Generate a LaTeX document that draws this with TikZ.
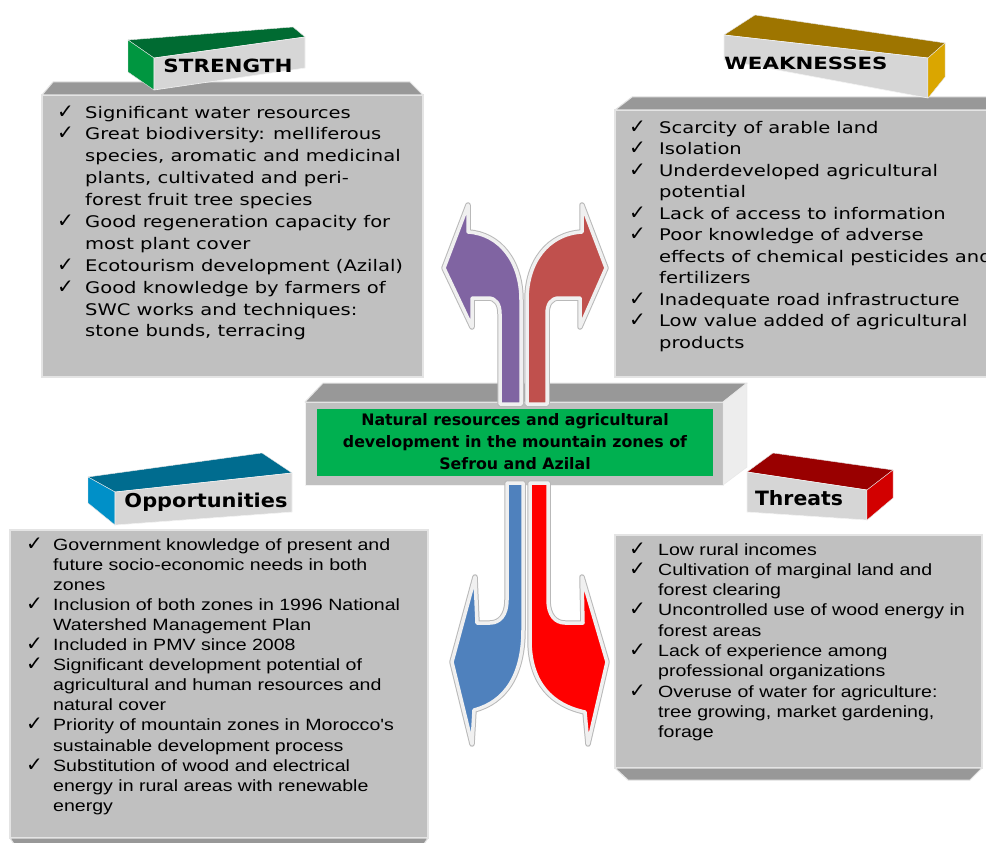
\documentclass[tikz,border=0pt]{standalone}
\usepackage{fontspec}
\usepackage{graphicx}
\usepackage{array}
\setmainfont{DejaVu Sans}
\newfontfamily\dv{DejaVu Sans}
\newfontfamily\stfont[FakeStretch=1.22]{DejaVu Sans}
\newfontfamily\opfont[FakeStretch=1.2]{Liberation Sans}
\definecolor{panelgray}{RGB}{192,192,192}
\definecolor{bevelgray}{RGB}{152,152,152}
\definecolor{paneledge}{RGB}{228,228,228}
\definecolor{labelgray}{RGB}{214,214,214}
\definecolor{greenTop}{RGB}{0,107,50}
\definecolor{greenSide}{RGB}{0,150,64}
\definecolor{goldTop}{RGB}{158,117,0}
\definecolor{goldSide}{RGB}{218,166,0}
\definecolor{blueTop}{RGB}{0,108,143}
\definecolor{blueSide}{RGB}{0,144,200}
\definecolor{redTop}{RGB}{153,0,0}
\definecolor{redSide}{RGB}{210,0,0}
\definecolor{centergreen}{RGB}{0,176,80}
\definecolor{arrpurple}{RGB}{128,100,162}
\definecolor{arrred}{RGB}{192,80,77}
\definecolor{arrblue}{RGB}{79,129,189}
\definecolor{arrbright}{RGB}{255,0,0}
\newcommand\ckm{{\dv\fontsize{20}{20}\selectfont ✓}}
\begin{document}
\begin{tikzpicture}[x=1pt,y=-1pt,
  panelface/.style={fill=panelgray, draw=paneledge, line width=1.5pt},
  bevel/.style={fill=bevelgray, draw=paneledge, line width=1pt, line join=round},
  frontface/.style={fill=labelgray, draw=white!90!gray, line width=0.6pt, line join=round},
  sideface/.style={draw=white!80!gray, line width=0.4pt, line join=round},
  arrowbody/.style={draw=white!94!black, line width=3.5pt, line join=round,
     preaction={draw=gray!55, line width=5.5pt, line join=round}},
  itemtext/.style={anchor=base west, inner sep=0pt},
  labeltext/.style={anchor=base, inner sep=0pt, text=black}]
\useasboundingbox (0,0) rectangle (986,843);
\clip (0,0) rectangle (986,843);
\fill[white] (0,0) rectangle (986,843);

% ---------- panels ----------
% Strength
\draw[panelface] (42,95) rectangle (423,377);
\draw[bevel] (42,95) -- (53,82) -- (410,82) -- (423,95) -- cycle;
% Weaknesses
\draw[panelface] (615,110) rectangle (1000,377);
\draw[bevel] (615,110) -- (632,97) -- (1000,97) -- (1000,110) -- cycle;
% Opportunities
\draw[panelface] (10,530) rectangle (428,838);
\draw[bevel] (10,838) -- (428,838) -- (420,850) -- (18,850) -- cycle;
% Threats
\draw[panelface] (615,535) rectangle (982,768);
\draw[bevel] (615,768) -- (982,768) -- (970,780) -- (628,780) -- cycle;

% ---------- panel texts ----------
\node[itemtext] (strtxt) at (57,118) {\stfont\fontsize{16}{21.9}\selectfont
\begin{tabular}[t]{@{}p{28pt}@{}l@{}}
\ckm & Significant water resources\\
\ckm & Great biodiversity: melliferous\\
     & species, aromatic and medicinal\\
     & plants, cultivated and peri-\\
     & forest fruit tree species\\
\ckm & Good regeneration capacity for\\
     & most plant cover\\
\ckm & Ecotourism development (Azilal)\\
\ckm & Good knowledge by farmers of\\
     & SWC works and techniques:\\
     & stone bunds, terracing
\end{tabular}};

\node[itemtext] (weaktxt) at (629,133.3) {\stfont\fontsize{16}{21.5}\selectfont
\begin{tabular}[t]{@{}p{30pt}@{}l@{}}
\ckm & Scarcity of arable land\\
\ckm & Isolation\\
\ckm & Underdeveloped agricultural\\
     & potential\\
\ckm & Lack of access to information\\
\ckm & Poor knowledge of adverse\\
     & effects of chemical pesticides and\\
     & fertilizers\\
\ckm & Inadequate road infrastructure\\
\ckm & Low value added of agricultural\\
     & products
\end{tabular}};

\node[itemtext] (opptxt) at (26,550) {\opfont\fontsize{16.3}{20.1}\selectfont
\begin{tabular}[t]{@{}p{27pt}@{}l@{}}
\ckm & Government knowledge of present and\\
     & future socio-economic needs in both\\
     & zones\\
\ckm & Inclusion of both zones in 1996 National\\
     & Watershed Management Plan\\
\ckm & Included in PMV since 2008\\
\ckm & Significant development potential of\\
     & agricultural and human resources and\\
     & natural cover\\
\ckm & Priority of mountain zones in Morocco's\\
     & sustainable development process\\
\ckm & Substitution of wood and electrical\\
     & energy in rural areas with renewable\\
     & energy
\end{tabular}};

\node[itemtext] (thrtxt) at (629,555) {\opfont\fontsize{16.3}{20.3}\selectfont
\begin{tabular}[t]{@{}p{29pt}@{}l@{}}
\ckm & Low rural incomes\\
\ckm & Cultivation of marginal land and\\
     & forest clearing\\
\ckm & Uncontrolled use of wood energy in\\
     & forest areas\\
\ckm & Lack of experience among\\
     & professional organizations\\
\ckm & Overuse of water for agriculture:\\
     & tree growing, market gardening,\\
     & forage
\end{tabular}};

% ---------- label blocks ----------
% STRENGTH
\draw[sideface, fill=greenTop] (128,40) -- (293,27) -- (305,37) -- (154,58) -- cycle;
\draw[sideface, fill=greenSide] (128,40) -- (154,58) -- (154,90) -- (128,72) -- cycle;
\draw[frontface] (154,58) -- (305,37) -- (305,68) -- (154,90) -- cycle;
\node[labeltext] (strlab) at (228,72) {\resizebox{129pt}{13.5pt}{\dv\bfseries STRENGTH}};
% WEAKNESSES
\draw[sideface, fill=goldTop] (724,35) -- (755,15) -- (945,43) -- (928,58) -- cycle;
\draw[frontface] (724,35) -- (928,58) -- (928,98) -- (724,60) -- cycle;
\draw[sideface, fill=goldSide] (928,58) -- (945,43) -- (945,77) -- (928,98) -- cycle;
\node[labeltext] (weaklab) at (806,70) {\resizebox{163pt}{12.5pt}{\dv\bfseries WEAKNESSES}};
% Opportunities
\draw[sideface, fill=blueTop] (88,477) -- (262,453) -- (292,473) -- (115,492) -- cycle;
\draw[sideface, fill=blueSide] (88,477) -- (115,492) -- (115,525) -- (88,503) -- cycle;
\draw[frontface] (115,492) -- (292,473) -- (292,512) -- (115,525) -- cycle;
\node[labeltext] (opplab) at (206,507) {\resizebox{163pt}{14.5pt}{\dv\bfseries Opportunities}};
% Threats
\draw[sideface, fill=redTop] (747,472) -- (773,453) -- (893,470) -- (867,490) -- cycle;
\draw[frontface] (747,472) -- (867,490) -- (867,520) -- (747,512) -- cycle;
\draw[sideface, fill=redSide] (867,490) -- (893,470) -- (893,498) -- (867,520) -- cycle;
\node[labeltext] (thrlab) at (799,505) {\resizebox{88pt}{15pt}{\dv\bfseries Threats}};

% ---------- center box ----------
\draw[frontface, fill=panelgray] (305,402) rectangle (723,485);
\draw[bevel] (305,402) -- (323,383) -- (747,383) -- (723,402) -- cycle;
\draw[sideface, fill=white!86!gray] (723,402) -- (747,383) -- (747,467) -- (723,485) -- cycle;
\fill[centergreen] (317,409) rectangle (713,476);
\node[inner sep=0pt, anchor=base] (center) at (515,425)
  {\dv\bfseries\fontsize{15.8}{22}\selectfont
   \begin{tabular}[t]{@{}c@{}}
   Natural resources and agricultural\\
   development in the mountain zones of\\
   Sefrou and Azilal
   \end{tabular}};

% ---------- arrows ----------
\filldraw[arrowbody, fill=arrpurple]
  (500,404) -- (500,314) .. controls (500,304) and (496,298) .. (488,298)
  -- (472,298) -- (472,327) -- (444,268) -- (468,205) -- (468,232)
  .. controls (500,234) and (521,262) .. (521,300) -- (521,404) -- cycle;
\filldraw[arrowbody, fill=arrred]
  (527,404) -- (527,300) .. controls (527,262) and (548,234) .. (582,232)
  -- (582,205) -- (606,268) -- (580,327) -- (580,298) -- (559,298)
  .. controls (551,298) and (547,304) .. (547,314) -- (547,404) -- cycle;
\filldraw[arrowbody, fill=arrblue]
  (507,483) -- (507,600) .. controls (507,615) and (500,623) .. (490,623)
  -- (477,623) -- (475,577) -- (452,662) -- (472,744) -- (474,710)
  .. controls (505,702) and (523,675) .. (523,630) -- (523,483) -- cycle;
\filldraw[arrowbody, fill=arrbright]
  (548,483) -- (548,600) .. controls (548,615) and (555,623) .. (565,623)
  -- (583,623) -- (582,577) -- (607,662) -- (588,744) -- (585,712)
  .. controls (552,705) and (530,683) .. (530,640) -- (530,483) -- cycle;
\end{tikzpicture}
\end{document}
